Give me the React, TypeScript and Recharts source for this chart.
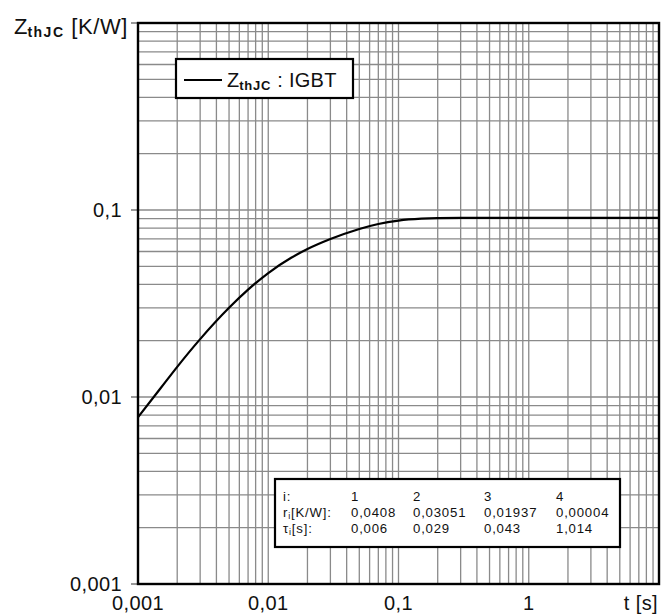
import React from "react";
import { LineChart, Line, XAxis, YAxis, CartesianGrid } from "recharts";

// time points [s]
const times = [0.001, 0.0015, 0.002, 0.003, 0.005, 0.007, 0.01, 0.015, 0.02, 0.03, 0.05, 0.07, 0.1, 0.15, 0.2, 0.3, 0.5, 1, 2, 5, 10];
// Z_thJC [K/W]
const zthIGBT = [0.0078, 0.0112, 0.0145, 0.0204, 0.03, 0.0375, 0.046, 0.0555, 0.0618, 0.0699, 0.0792, 0.0842, 0.0878, 0.0899, 0.0905, 0.0907, 0.0907, 0.0907, 0.0907, 0.0907, 0.0907];

const xTicks = [
  0.001, 0.002, 0.003, 0.004, 0.005, 0.006, 0.007, 0.008, 0.009,
  0.01, 0.02, 0.03, 0.04, 0.05, 0.06, 0.07, 0.08, 0.09,
  0.1, 0.2, 0.3, 0.4, 0.5, 0.6, 0.7, 0.8, 0.9,
  1, 2, 3, 4, 5, 6, 7, 8, 9, 10,
];
const yTicks = [
  0.001, 0.002, 0.003, 0.004, 0.005, 0.006, 0.007, 0.008, 0.009,
  0.01, 0.02, 0.03, 0.04, 0.05, 0.06, 0.07, 0.08, 0.09,
  0.1, 0.2, 0.3, 0.4, 0.5, 0.6, 0.7, 0.8, 0.9, 1,
];
const xMajor = [0.001, 0.01, 0.1, 1, 10];
const xMajorLabels = ["0,001", "0,01", "0,1", "1", "t [s]"];
const yMajor = [0.001, 0.01, 0.1];
const yMajorLabels = ["0,001", "0,01", "0,1"];

const paramIndex = ["1", "2", "3", "4"];
const paramR = ["0,0408", "0,03051", "0,01937", "0,00004"];
const paramTau = ["0,006", "0,029", "0,043", "1,014"];

const data = times.map((t, i) => ({ t, z: zthIGBT[i] }));

const FONT = "'Liberation Sans', Arial, sans-serif";
const W = 661;
const H = 608;
const M = { top: 15, right: 10, bottom: 0, left: 0 };
const Y_W = 130;
const X_H = 32;

const same = (a: number, b: number) => Math.abs(a - b) / b < 1e-6;

const XTick = (props: any) => {
  const { x, y, payload } = props;
  const idx = xMajor.findIndex((v) => same(payload.value, v));
  if (idx < 0) return <g />;
  const last = idx === xMajor.length - 1;
  return (
    <text
      x={last ? x - 1 : x}
      y={y + 26}
      textAnchor={last ? "end" : "middle"}
      fontFamily={FONT}
      fontSize={20}
      letterSpacing={0.4}
      fill="#111"
    >
      {xMajorLabels[idx]}
    </text>
  );
};

const YTick = (props: any) => {
  const { x, y, payload } = props;
  const v = payload.value;
  if (same(v, 1)) {
    return (
      <g>
        <line x1={x - 7} x2={x} y1={y} y2={y} stroke="#555" strokeWidth={1.2} />
        <text x={x - 10} y={y + 11} textAnchor="end" fontFamily={FONT} fontSize={22} fill="#111">
          <tspan>Z</tspan>
          <tspan fontSize={14} fontWeight="bold" dy={3} letterSpacing={1.5}>thJC</tspan>
          <tspan dy={-3} letterSpacing={0.6}> [K/W]</tspan>
        </text>
      </g>
    );
  }
  const idx = yMajor.findIndex((m) => same(v, m));
  if (idx < 0) return <g />;
  return (
    <g>
      <line x1={x - 7} x2={x} y1={y} y2={y} stroke="#555" strokeWidth={1.2} />
      <text x={x - 16} y={y + 7} textAnchor="end" fontFamily={FONT} fontSize={20} letterSpacing={0.4} fill="#111">
        {yMajorLabels[idx]}
      </text>
    </g>
  );
};

const PL = M.left + Y_W;
const PT = M.top;
const PR = W - M.right;
const PB = H - M.bottom - X_H;

const colX = [275, 343, 405, 476, 548];
const rowY = [493, 509, 524.5];

const Overlay = () => (
  <svg
    width={W}
    height={H}
    style={{ position: "absolute", left: 0, top: 0, pointerEvents: "none" }}
    fontFamily={FONT}
  >
    <rect x={PL} y={PT} width={PR - PL} height={PB - PT} fill="none" stroke="#000" strokeWidth={2.4} />
    {/* legend */}
    <rect x={168} y={51} width={177} height={39} fill="#fff" stroke="#000" strokeWidth={2.2} />
    <line x1={176} x2={214} y1={72} y2={72} stroke="#000" strokeWidth={1.8} />
    <text x={219} y={79} fontSize={20} fill="#111">
      <tspan>Z</tspan>
      <tspan fontSize={13} fontWeight="bold" dy={3} letterSpacing={0.8}>thJC</tspan>
      <tspan dy={-3} letterSpacing={0.3}> : IGBT</tspan>
    </text>
    {/* parameter table */}
    <rect x={267} y={471} width={345} height={68} fill="#fff" stroke="#000" strokeWidth={2.2} />
    <g fontSize={13.2} letterSpacing={0.8} fill="#111">
      <text x={colX[0]} y={rowY[0]}>i:</text>
      <text x={colX[0]} y={rowY[1]}>
        <tspan>r</tspan>
        <tspan fontSize={9} dy={2}>i</tspan>
        <tspan dy={-2}>[K/W]:</tspan>
      </text>
      <text x={colX[0]} y={rowY[2]}>
        <tspan>τ</tspan>
        <tspan fontSize={9} dy={2}>i</tspan>
        <tspan dy={-2}>[s]:</tspan>
      </text>
      {paramIndex.map((p, i) => (
        <text key={"i" + i} x={colX[i + 1]} y={rowY[0]}>{p}</text>
      ))}
      {paramR.map((p, i) => (
        <text key={"r" + i} x={colX[i + 1]} y={rowY[1]}>{p}</text>
      ))}
      {paramTau.map((p, i) => (
        <text key={"t" + i} x={colX[i + 1]} y={rowY[2]}>{p}</text>
      ))}
    </g>
  </svg>
);

export default function App() {
  return (
    <div style={{ position: "relative", width: W, height: H, background: "#fff" }}>
      <LineChart width={W} height={H} data={data} margin={M}>
        <CartesianGrid stroke="#8a8a8a" strokeWidth={1.3} />
        <XAxis
          dataKey="t"
          type="number"
          scale="log"
          domain={[0.001, 10]}
          ticks={xTicks}
          allowDataOverflow
          height={X_H}
          tickSize={0}
          tickMargin={0}
          tickLine={false}
          axisLine={false}
          tick={<XTick />}
          interval={0}
        />
        <YAxis
          type="number"
          scale="log"
          domain={[0.001, 1]}
          ticks={yTicks}
          allowDataOverflow
          width={Y_W}
          tickSize={0}
          tickMargin={0}
          tickLine={false}
          axisLine={false}
          tick={<YTick />}
          interval={0}
        />
        <Line
          type="monotone"
          dataKey="z"
          stroke="#000"
          strokeWidth={2.2}
          dot={false}
          isAnimationActive={false}
        />
      </LineChart>
      <Overlay />
    </div>
  );
}
